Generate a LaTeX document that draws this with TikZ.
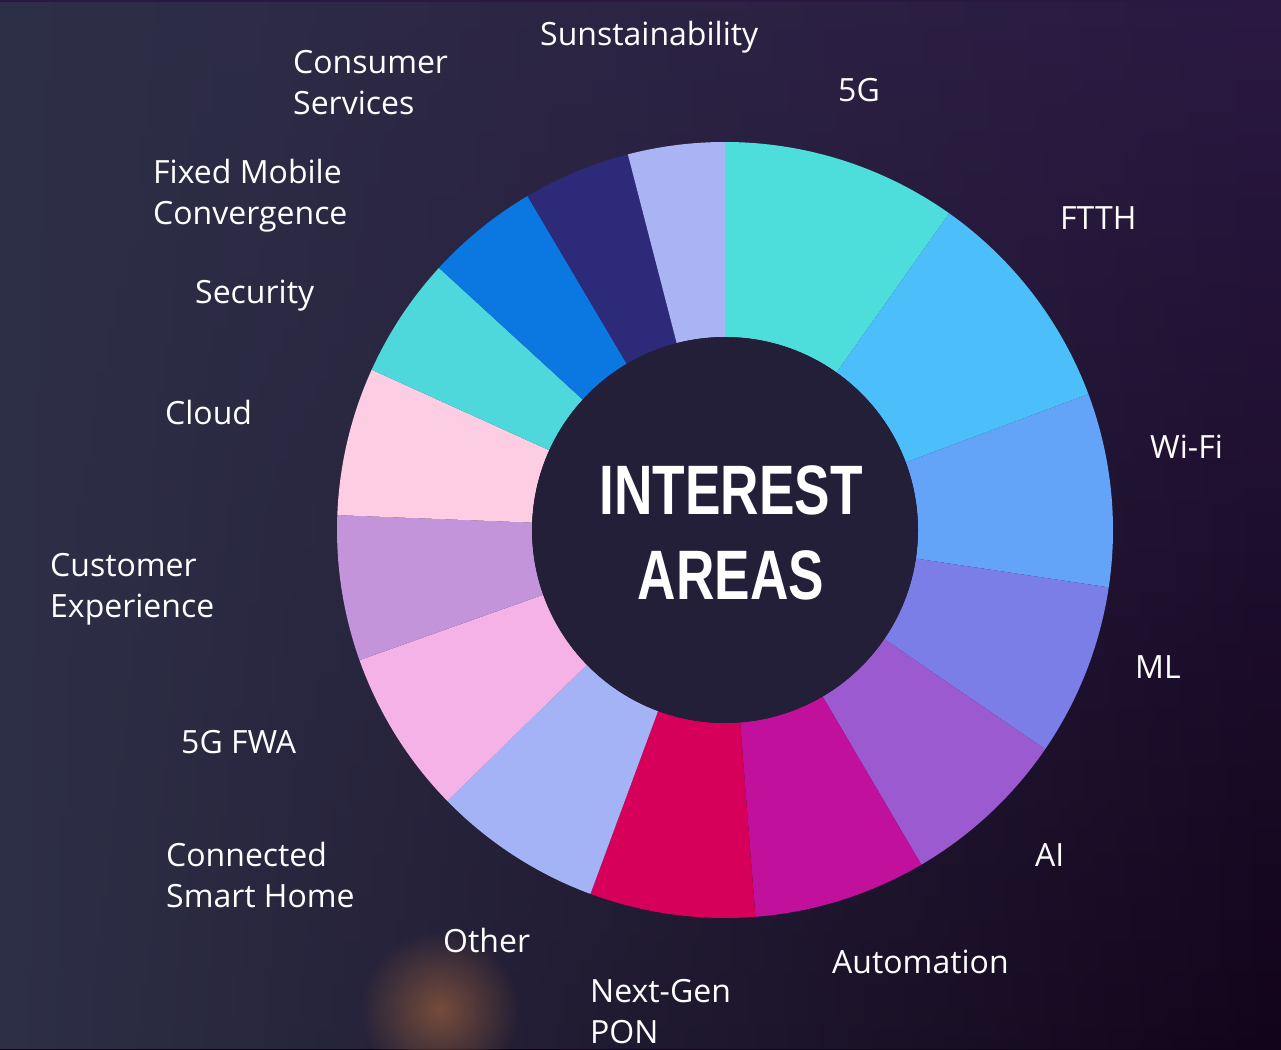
\documentclass[tikz,border=0pt]{standalone}
\usepackage{fontspec}
\setmainfont{Open Sans}
\newfontfamily\titlefont[FakeStretch=0.76]{Liberation Sans}
\usetikzlibrary{fadings}

\definecolor{bgleft}{HTML}{2E3047}
\definecolor{bgtop}{HTML}{2A1842}
\definecolor{bgbottom}{HTML}{12041A}
\definecolor{hole}{HTML}{231F38}
\definecolor{glow}{HTML}{B8703E}
% segment colours, clockwise from the top
\definecolor{seg5g}{HTML}{4DDDDA}
\definecolor{segftth}{HTML}{4CBEFA}
\definecolor{segwifi}{HTML}{64A4F8}
\definecolor{segml}{HTML}{7B7EE6}
\definecolor{segai}{HTML}{9B5AD0}
\definecolor{segauto}{HTML}{C0109C}
\definecolor{segpon}{HTML}{D6005A}
\definecolor{segother}{HTML}{A4B2F6}
\definecolor{seghome}{HTML}{F4B2E6}
\definecolor{segcx}{HTML}{C394DA}
\definecolor{segcloud}{HTML}{FCCDE3}
\definecolor{segsec}{HTML}{4FD8DC}
\definecolor{segfmc}{HTML}{0A78E0}
\definecolor{segcons}{HTML}{2E2A7A}
\definecolor{segsust}{HTML}{AAB4F5}

\tikzfading[name=softglow, inner color=transparent!45, outer color=transparent!100]

\tikzset{
  lbl/.style={text=white, font=\fontsize{32}{41}\selectfont, anchor=north west, inner sep=0pt, align=left},
  title/.style={text=white, font=\titlefont\bfseries\fontsize{70}{85}\selectfont, anchor=north, inner sep=0pt, align=center}
}

\begin{document}
\begin{tikzpicture}[x=1pt,y=-1pt]
\useasboundingbox (0,0) rectangle (1281,1049);
% background
\shade[top color=bgtop, bottom color=bgbottom] (0,0) rectangle (1281,1049);
\fill[bgleft, path fading=east] (0,0) rectangle (1281,1049);
\fill[glow, path fading=softglow] (440,1010) circle[radius=80];

% donut
\begin{scope}[shift={(725,530)}, x=1pt, y=1pt]
\foreach \a/\b/\c in {90/54.7/seg5g, 54.7/20.5/segftth, 20.5/-8.5/segwifi,
    -8.5/-34.4/segml, -34.4/-59.6/segai, -59.6/-85.5/segauto,
    -85.5/-110.3/segpon, -110.3/-135.7/segother, -135.7/-160.4/seghome,
    -160.4/-182.2/segcx, -182.2/-204.4/segcloud, -204.4/-222.5/segsec,
    -222.5/-239.4/segfmc, -239.4/-255.5/segcons, -255.5/-270/segsust}
  \fill[\c] (\a:388) arc[start angle=\a, end angle=\b, radius=388]
    -- (\b:193) arc[start angle=\b, end angle=\a, radius=193] -- cycle;
\fill[hole] (0,0) circle[radius=193];
\end{scope}

\node[title] (title) at (731,465) {INTEREST\\AREAS};

% labels, clockwise from the top
\node[lbl] (sust)  at (540,21)   {Sunstainability};
\node[lbl] (fiveg) at (838,78)   {5G};
\node[lbl] (ftth)  at (1060,206) {FTTH};
\node[lbl] (wifi)  at (1150,435) {Wi-Fi};
\node[lbl] (ml)    at (1135,655) {ML};
\node[lbl] (ai)    at (1035,843) {AI};
\node[lbl] (auto)  at (832,950)  {Automation};
\node[lbl] (pon)   at (590,979)  {Next-Gen\\PON};
\node[lbl] (other) at (443,928)  {Other};
\node[lbl] (home)  at (166,842)  {Connected\\Smart Home};
\node[lbl] (fwa)   at (181,730)  {5G FWA};
\node[lbl] (cx)    at (50,553)   {Customer\\Experience};
\node[lbl] (cloud) at (165,400)  {Cloud};
\node[lbl] (sec)   at (195,280)  {Security};
\node[lbl] (fmc)   at (153,159)  {Fixed Mobile\\Convergence};
\node[lbl] (cons)  at (293,50)   {Consumer\\Services};
\end{tikzpicture}
\end{document}
